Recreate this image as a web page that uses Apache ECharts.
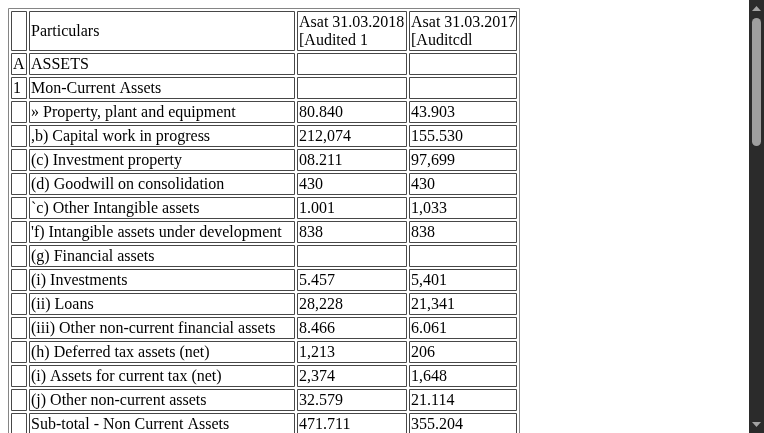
<!DOCTYPE html>
<html>
<head>
<meta charset="utf-8">
<script src="https://cdn.jsdelivr.net/npm/echarts@6/dist/echarts.min.js"></script>
<style>
  html, body { margin: 0; padding: 0; background: #fff; }
  #sheet { width: 100%; height: 1380px; }
</style>
</head>
<body>
<div id="sheet"></div>
<script>
// table content, one entry per row (row 0 = header)
var codes = ['', 'A', '1', '', '', '', '', '', '', '', '', '', '', '', '', '', ''];
var particulars = [
    'Particulars',
    'ASSETS',
    'Mon-Current Assets',
    '\u00bb Property, plant and equipment',
    ',b) Capital work in progress',
    '(c) Investment property',
    '(d) Goodwill on consolidation',
    '`c) Other Intangible assets',
    '\'f) Intangible assets under development',
    '(g) Financial assets',
    '(i) Investments',
    '(ii) Loans',
    '(iii) Other non-current financial assets',
    '(h) Deferred tax assets (net)',
    '(i) Assets for current tax (net)',
    '(j) Other non-current assets',
    'Sub-total - Non Current Assets'
];
var asAt2018 = ['Asat 31.03.2018\n[Audited 1', '', '', '80.840', '212,074', '08.211', '430', '1.001', '838', '',
    '5.457', '28,228', '8.466', '1,213', '2,374', '32.579', '471.711'];
var asAt2017 = ['Asat 31.03.2017\n[Auditcdl', '', '', '43.903', '155.530', '97,699', '430', '1,033', '838', '',
    '5,401', '21,341', '6.061', '206', '1,648', '21.114', '355.204'];

(function () {
    var chart = echarts.init(document.getElementById('sheet'), null, {renderer: 'canvas'});
    var H = 1380;
    // column borders (left, right) in page pixels
    var cols = [[11, 26], [29, 294], [297, 406], [409, 516]];
    function rowBox(r) {
        if (r === 0) return [11, 50];
        var top = 53 + (r - 1) * 24;
        return [top, top + 21];
    }
    var columns = [codes, particulars, asAt2018, asAt2017];
    var cells = [];
    for (var r = 0; r < particulars.length; r++) {
        for (var c = 0; c < columns.length; c++) {
            cells.push([c, r, columns[c][r]]);
        }
    }
    var lastRow = rowBox(particulars.length - 1);

    var option = {
        animation: false,
        grid: {left: 0, right: 0, top: 0, bottom: 0},
        xAxis: {type: 'value', min: 0, max: chart.getWidth(), show: false},
        yAxis: {type: 'value', min: 0, max: H, inverse: true, show: false},
        // page scrollbar look-alike
        graphic: [
            {type: 'rect', left: 749, top: 0, silent: true,
                shape: {width: 15, height: 433}, style: {fill: '#2b2b2b'}},
            {type: 'polygon', silent: true,
                shape: {points: [[752, 11], [756.5, 6], [761, 11]]}, style: {fill: '#a3a3a3'}},
            {type: 'rect', silent: true,
                shape: {x: 752, y: 18, width: 9, height: 128, r: 4.5}, style: {fill: '#9f9f9f'}},
            {type: 'polygon', silent: true,
                shape: {points: [[752, 422], [756.5, 427], [761, 422]]}, style: {fill: '#a3a3a3'}}
        ],
        series: [
            {
                // outer table border
                type: 'custom',
                silent: true,
                data: [[0]],
                renderItem: function (params, api) {
                    var p0 = api.coord([8, 8]);
                    var p1 = api.coord([519, lastRow[1] + 3]);
                    return {
                        type: 'rect',
                        shape: {x: p0[0] + 0.5, y: p0[1] + 0.5, width: p1[0] - p0[0], height: p1[1] - p0[1]},
                        style: {fill: null, stroke: '#858585', lineWidth: 1}
                    };
                }
            },
            {
                type: 'custom',
                silent: true,
                data: cells,
                renderItem: function (params, api) {
                    var c = api.value(0), r = api.value(1);
                    var txt = cells[params.dataIndex][2];
                    var box = rowBox(r);
                    var tl = api.coord([cols[c][0], box[0]]);
                    var br = api.coord([cols[c][1], box[1]]);
                    return {
                        type: 'group',
                        children: [
                            {
                                type: 'rect',
                                shape: {x: tl[0] + 0.5, y: tl[1] + 0.5, width: br[0] - tl[0], height: br[1] - tl[1]},
                                style: {fill: null, stroke: '#474747', lineWidth: 1}
                            },
                            {
                                type: 'text',
                                style: {
                                    x: tl[0] + 2,
                                    y: (tl[1] + br[1]) / 2 + 1,
                                    text: txt,
                                    fill: '#000',
                                    fontFamily: '"Liberation Serif", "Times New Roman", serif',
                                    fontSize: 16,
                                    lineHeight: 18,
                                    align: 'left',
                                    verticalAlign: 'middle'
                                }
                            }
                        ]
                    };
                }
            }
        ]
    };
    chart.setOption(option);
    window.onresize = chart.resize;
})();
</script>
</body>
</html>
